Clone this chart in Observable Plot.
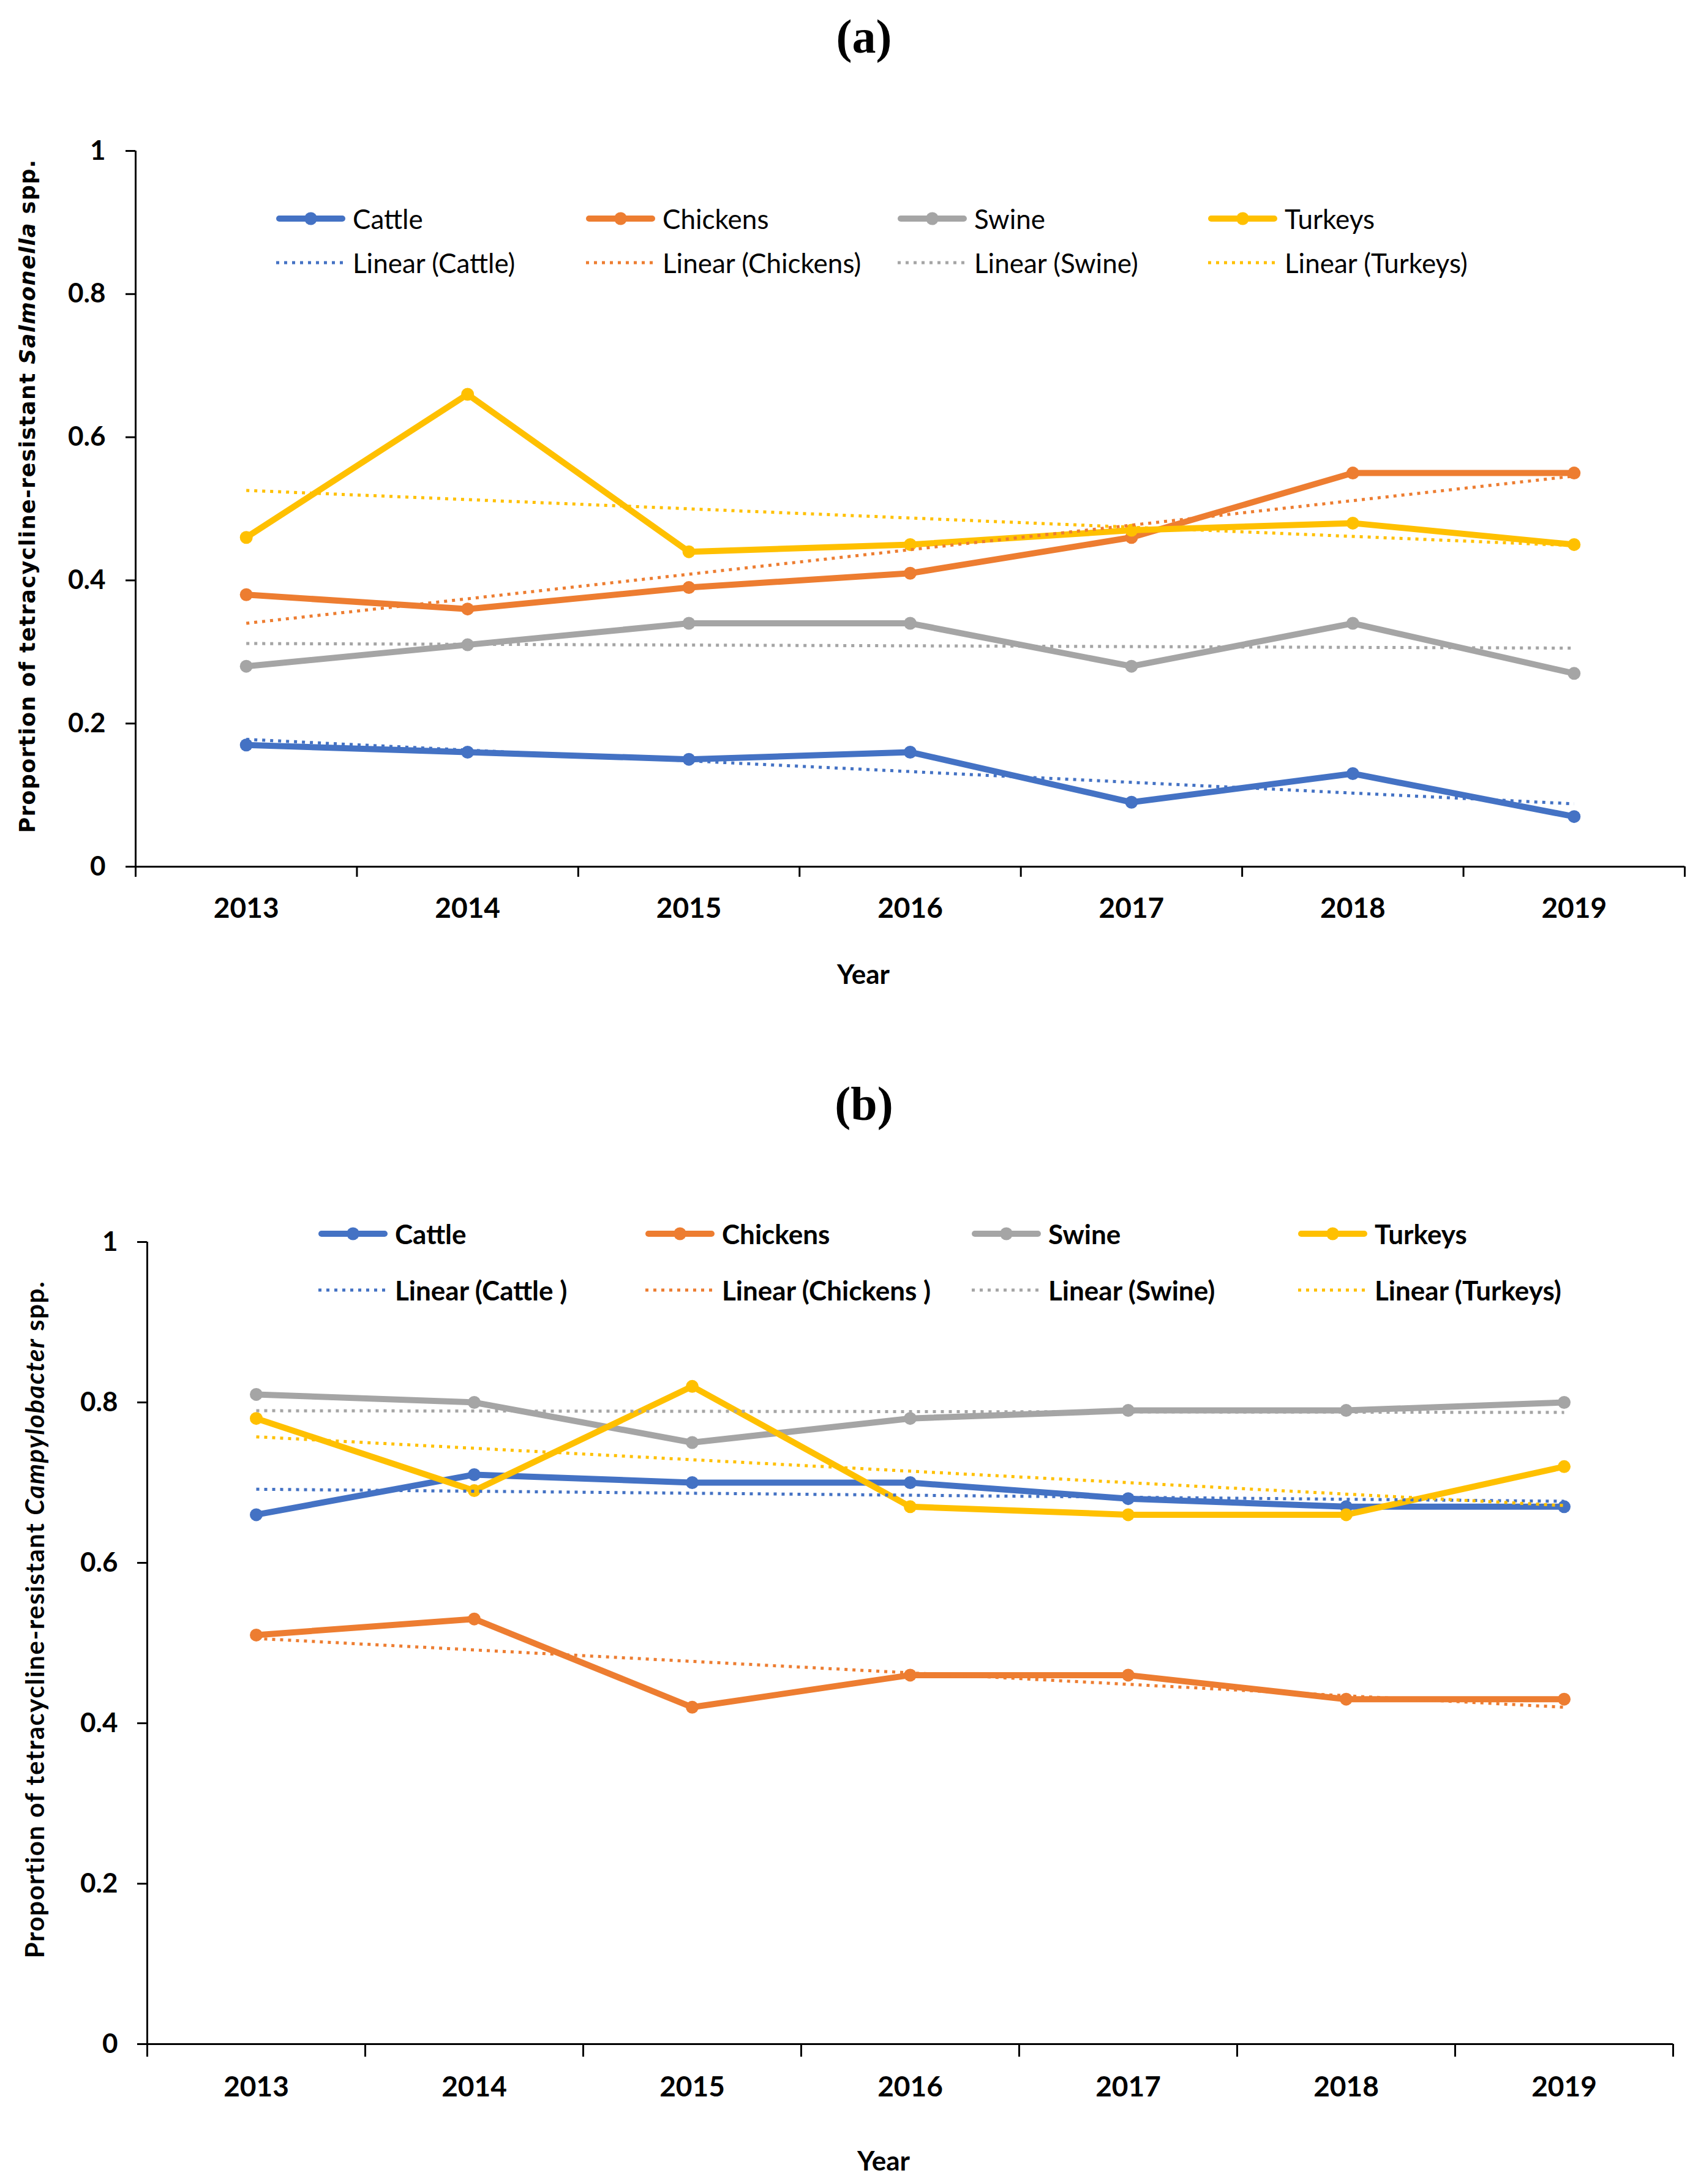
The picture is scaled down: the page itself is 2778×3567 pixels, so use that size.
<!DOCTYPE html>
<html><head><meta charset="utf-8">
<script src="https://cdn.jsdelivr.net/npm/d3@7"></script>
<script src="https://cdn.jsdelivr.net/npm/@observablehq/plot@0.6"></script>
<style>
html,body{margin:0;padding:0;background:#fff;}
#page{position:relative;width:2778px;height:3567px;overflow:hidden;background:#fff;}
.abs{position:absolute;white-space:nowrap;line-height:1;color:#000;}
.center{transform:translate(-50%,-50%);}
.title{font-family:"Liberation Serif",serif;font-size:78px;font-weight:bold;}
.ylab{transform:translate(-50%,-50%) rotate(-90deg);font-weight:bold;}
.xlab{font-family:Lato,sans-serif;font-weight:bold;font-size:44px;}
.leg{display:flex;align-items:center;height:60px;font-family:Lato,sans-serif;font-size:44px;}
.plotwrap{position:absolute;left:0;}
</style></head><body><div id="page"></div>
<script>
// ---- data ----
const years = [2013, 2014, 2015, 2016, 2017, 2018, 2019];
const seriesNames = ["Cattle", "Chickens", "Swine", "Turkeys"];
const seriesColors = ["#4472C4", "#ED7D31", "#A5A5A5", "#FFC000"];
const yTicks = [0, 0.2, 0.4, 0.6, 0.8, 1];

// (a) Salmonella spp.
const salCattle   = [0.17, 0.16, 0.15, 0.16, 0.09, 0.13, 0.07];
const salChickens = [0.38, 0.36, 0.39, 0.41, 0.46, 0.55, 0.55];
const salSwine    = [0.28, 0.31, 0.34, 0.34, 0.28, 0.34, 0.27];
const salTurkeys  = [0.46, 0.66, 0.44, 0.45, 0.47, 0.48, 0.45];
const salLegendTrend = ["Linear (Cattle)", "Linear (Chickens)", "Linear (Swine)", "Linear (Turkeys)"];

// (b) Campylobacter spp.
const campCattle   = [0.66, 0.71, 0.70, 0.70, 0.68, 0.67, 0.67];
const campChickens = [0.51, 0.53, 0.42, 0.46, 0.46, 0.43, 0.43];
const campSwine    = [0.81, 0.80, 0.75, 0.78, 0.79, 0.79, 0.80];
const campTurkeys  = [0.78, 0.69, 0.82, 0.67, 0.66, 0.66, 0.72];
const campLegendTrend = ["Linear (Cattle )", "Linear (Chickens )", "Linear (Swine)", "Linear (Turkeys)"];

// ---- helpers ----
function buildRows(arrs) {
  const rows = [];
  arrs.forEach((vals, i) => vals.forEach((v, j) => rows.push({series: seriesNames[i], year: years[j], value: v})));
  return rows;
}
function buildTrends(arrs) {
  // Excel-style linear least-squares trend line over category index
  const rows = [];
  arrs.forEach((vals, i) => {
    const n = vals.length, xs = vals.map((_, j) => j);
    const mx = d3.mean(xs), my = d3.mean(vals);
    const slope = d3.sum(xs, (x, j) => (x - mx) * (vals[j] - my)) / d3.sum(xs, x => (x - mx) ** 2);
    const icpt = my - slope * mx;
    rows.push({series: seriesNames[i], year: years[0], value: icpt});
    rows.push({series: seriesNames[i], year: years[n - 1], value: icpt + slope * (n - 1)});
  });
  return rows;
}
const boundaries = years.map(y => y - 0.5).concat([years[years.length - 1] + 0.5]);

const page = document.getElementById("page");

function chart(cfg) {
  const rows = buildRows(cfg.arrs);
  const trends = buildTrends(cfg.arrs);
  const p = Plot.plot({
    width: 2778, height: cfg.height,
    marginLeft: cfg.mL, marginRight: cfg.mR, marginTop: cfg.mT, marginBottom: cfg.mB,
    x: {type: "linear", domain: [boundaries[0], boundaries[boundaries.length - 1]]},
    y: {domain: [0, 1]},
    color: {domain: seriesNames, range: seriesColors},
    style: {fontFamily: "Lato, sans-serif", color: "#000", background: "transparent", overflow: "visible"},
    marks: [
      Plot.axisY({ticks: yTicks, tickFormat: d => String(d), tickSize: 16, tickPadding: cfg.yPad,
        fontSize: 44, fontWeight: "bold", label: null, stroke: "#000", strokeWidth: 3}),
      Plot.axisX({ticks: boundaries, tickFormat: () => "", tickSize: cfg.xTick, label: null, stroke: "#000", strokeWidth: 3}),
      Plot.axisX({ticks: years, tickFormat: d => String(d), tickSize: 0, tickPadding: cfg.xPad,
        fontSize: 46, fontWeight: "bold", label: null}),
      Plot.ruleY([0], {stroke: "#000", strokeWidth: 3}),
      Plot.ruleX([boundaries[0]], {stroke: "#000", strokeWidth: 3}),
      Plot.line(rows, {x: "year", y: "value", stroke: "series", strokeWidth: 10}),
      Plot.dot(rows, {x: "year", y: "value", fill: "series", r: 10.5}),
      Plot.line(trends, {x: "year", y: "value", stroke: "series", strokeWidth: 5,
        strokeDasharray: "5,8", strokeLinecap: "butt"})
    ]
  });
  const wrap = document.createElement("div");
  wrap.className = "plotwrap";
  wrap.style.top = cfg.top + "px";
  wrap.appendChild(p);
  page.appendChild(wrap);

  // legend
  [[cfg.legRows[0], false, seriesNames], [cfg.legRows[1], true, cfg.trendLabels]].forEach(([rowY, dotted, labels]) => {
    labels.forEach((lab, i) => {
      const d = document.createElement("div");
      d.className = "abs leg";
      d.style.left = cfg.legCols[i] + "px";
      d.style.top = (rowY - 30) + "px";
      d.style.fontWeight = cfg.legWeight;
      const c = seriesColors[i];
      const sw = dotted
        ? `<svg width="113" height="60"><line x1="0" x2="113" y1="30" y2="30" stroke="${c}" stroke-width="5" stroke-dasharray="5,8"/></svg>`
        : `<svg width="113" height="60"><line x1="5" x2="108" y1="30" y2="30" stroke="${c}" stroke-width="10" stroke-linecap="round"/><circle cx="56.5" cy="30" r="10.5" fill="${c}"/></svg>`;
      d.innerHTML = sw + `<span style="margin-left:12px">${lab}</span>`;
      page.appendChild(d);
    });
  });

  // title
  const t = document.createElement("div");
  t.className = "abs center title";
  t.style.left = cfg.titlePos[0] + "px"; t.style.top = cfg.titlePos[1] + "px";
  t.textContent = cfg.title;
  page.appendChild(t);

  // x label
  const xl = document.createElement("div");
  xl.className = "abs center xlab";
  xl.style.left = cfg.xlabPos[0] + "px"; xl.style.top = cfg.xlabPos[1] + "px";
  xl.textContent = "Year";
  page.appendChild(xl);

  // y label
  const yl = document.createElement("div");
  yl.className = "abs ylab";
  yl.style.left = cfg.ylabPos[0] + "px"; yl.style.top = cfg.ylabPos[1] + "px";
  yl.style.fontFamily = cfg.ylabFont; yl.style.fontSize = cfg.ylabSize + "px";
  yl.innerHTML = cfg.ylabHTML;
  page.appendChild(yl);
  const w = yl.offsetWidth, n = yl.textContent.length;
  yl.style.letterSpacing = ((cfg.ylabLen - w) / n) + "px";
}

chart({
  arrs: [salCattle, salChickens, salSwine, salTurkeys],
  top: 200, height: 1450, mL: 221, mR: 27, mT: 46, mB: 235,
  yPad: 33, xTick: 17, xPad: 51,
  legRows: [357, 429], legCols: [451, 957, 1466, 1973], legWeight: "normal",
  trendLabels: salLegendTrend,
  title: "(a)", titlePos: [1411, 60],
  xlabPos: [1410, 1590],
  ylabPos: [45, 810], ylabFont: "'DejaVu Sans', sans-serif", ylabSize: 35, ylabLen: 1101,
  ylabHTML: "Proportion of tetracycline-resistant <i>Salmonella</i> spp."
});

chart({
  arrs: [campCattle, campChickens, campSwine, campTurkeys],
  top: 1900, height: 1667, mL: 240, mR: 46, mT: 128, mB: 229,
  yPad: 32, xTick: 21, xPad: 53,
  legRows: [2015, 2107], legCols: [520, 1054, 1587, 2120], legWeight: "bold",
  trendLabels: campLegendTrend,
  title: "(b)", titlePos: [1411, 1803],
  xlabPos: [1443, 3528],
  ylabPos: [56, 2645], ylabFont: "Lato, sans-serif", ylabSize: 42, ylabLen: 1107,
  ylabHTML: "Proportion of tetracycline-resistant <i>Campylobacter</i> spp."
});
</script>
</body></html>
